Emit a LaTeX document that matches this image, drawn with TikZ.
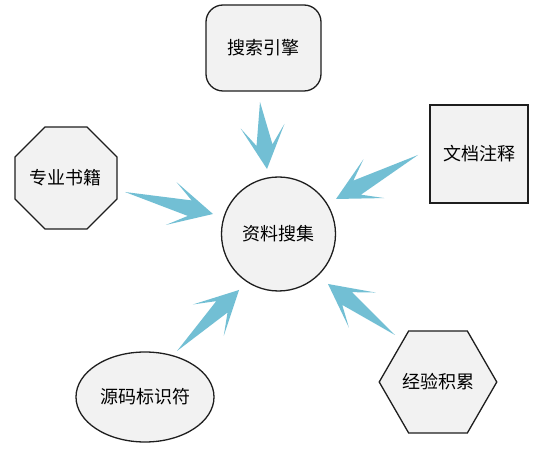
\documentclass[tikz,border=0pt]{standalone}
\usepackage{fontspec}
\newfontfamily\cjk{Noto Sans CJK SC}
\usetikzlibrary{shapes.geometric,calc}
\definecolor{boxfill}{RGB}{242,242,242}
\definecolor{boxline}{RGB}{30,30,30}
\definecolor{arrowcol}{RGB}{114,191,212}
\tikzset{
  shapebox/.style={draw=boxline,fill=boxfill,line width=1.3pt,inner sep=0pt,
    font=\cjk\fontsize{18}{20}\selectfont,text=black},
}
\newcommand\swoosh[2]{%
  \coordinate (jb) at ($(#2)!24pt!(#1)$);
  \coordinate (bb) at ($(#2)!43pt!(#1)$);
  \fill[arrowcol] (#1)
    -- ($(jb)!8pt!90:(#2)$)
    -- ($(bb)!22pt!90:(#2)$)
    -- (#2)
    -- ($(bb)!22pt!-90:(#2)$)
    -- ($(jb)!8pt!-90:(#2)$)
    -- cycle;}
\begin{document}
\begin{tikzpicture}[x=1pt,y=-1pt]
\useasboundingbox[fill=white] (0,0) rectangle (547,449);
% nodes
\node[shapebox,circle,minimum size=114pt] (center) at (278.5,234) {资料搜集};
\node[shapebox,rectangle,rounded corners=17pt,minimum width=115pt,minimum height=86pt] (search) at (263.5,48) {搜索引擎};
\node[shapebox,rectangle,minimum width=98pt,minimum height=98pt] (doc) at (479,154) {文档注释};
\node[shapebox,regular polygon,regular polygon sides=8,minimum size=108pt] (book) at (66,178) {专业书籍};
\node[shapebox,ellipse,minimum width=138pt,minimum height=90pt] (code) at (145,397) {源码标识符};
\node[shapebox,regular polygon,regular polygon sides=6,minimum size=114pt] (exp) at (438,382) {经验积累};
% arrow ends
\coordinate (t1) at (260,102); \coordinate (p1) at (267,169);
\coordinate (t2) at (125,192); \coordinate (p2) at (213,214);
\coordinate (t3) at (418,155); \coordinate (p3) at (336,199);
\coordinate (t4) at (395,335); \coordinate (p4) at (328,284);
\coordinate (t5) at (177,351); \coordinate (p5) at (239,290);
\swoosh{t1}{p1}
\swoosh{t2}{p2}
\swoosh{t3}{p3}
\swoosh{t4}{p4}
\swoosh{t5}{p5}
\end{tikzpicture}
\end{document}
